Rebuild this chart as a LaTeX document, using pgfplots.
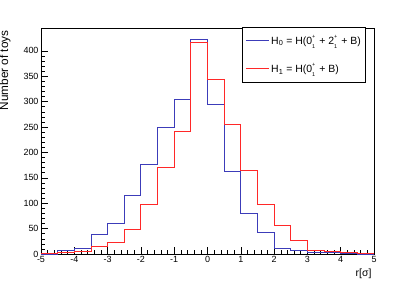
\documentclass[border=0pt]{standalone}
\usepackage{fontspec}
\setmainfont{Liberation Sans}
\usepackage{pgfplots}
\pgfplotsset{compat=1.18}
\definecolor{hblue}{RGB}{60,60,185}
\definecolor{hred}{RGB}{255,40,40}
\newcommand\supsub[2]{\makebox[0pt][l]{\raisebox{1.05ex}{\fontsize{5.5}{6}\selectfont #1}}\raisebox{-0.75ex}{\fontsize{5.5}{6}\selectfont #2}\hspace{1.2bp}}
\begin{document}
\begin{tikzpicture}[x=1bp,y=1bp]
\useasboundingbox (0,0) rectangle (415,282);
\begin{axis}[
  at={(41bp,28bp)}, anchor=south west,
  scale only axis, width=333bp, height=226bp,
  xmin=-5, xmax=5, ymin=0, ymax=445,
  xtick={-5,-4,...,5}, ytick={0,50,...,400},
  minor x tick num=4, minor y tick num=4,
  tick align=inside, xtick pos=bottom, ytick pos=left,
  major tick length=7bp, minor tick length=3.5bp,
  tick style={black, line width=0.5bp},
  axis line style={black, line width=0.6bp},
  /pgf/number format/assume math mode=true,
  ticklabel style={font=\fontsize{9}{10}\selectfont},
  xticklabel style={yshift=1bp},
  yticklabel style={xshift=1bp},
  clip=false,
  legend style={at={(rel axis cs:0.604,1.005)}, anchor=north west, draw=black, fill=white,
    font=\fontsize{10.5}{12}\selectfont, inner xsep=3bp, inner ysep=6bp,
    row sep=14bp, line width=0.6bp},
  legend cell align=left,
  legend image code/.code={\draw[#1] (0bp,0bp) -- (23bp,0bp);},
]
\addplot[const plot mark left, hblue, line width=0.8bp] coordinates {
(-5,0) (-4.5,7) (-4,12) (-3.5,38) (-3,60) (-2.5,116) (-2,177) (-1.5,249) (-1,304) (-0.5,423)
(0,294) (0.5,163) (1,80) (1.5,43) (2,12) (2.5,8) (3,4) (3.5,3) (4,1) (4.5,0) (5,0)};
\addlegendentry{H\textsubscript{0} = H(0\supsub{+}{1} + 2\supsub{+}{1} + B)}
\addplot[const plot mark left, hred, line width=0.8bp] coordinates {
(-5,1) (-4.5,3) (-4,5) (-3.5,14) (-3,23) (-2.5,49) (-2,97) (-1.5,171) (-1,242) (-0.5,417)
(0,343) (0.5,255) (1,165) (1.5,97) (2,56) (2.5,26) (3,7) (3.5,5) (4,4) (4.5,2) (5,2)};
\addlegendentry{H\textsubscript{1} = H(0\supsub{+}{1} + B)}
\end{axis}
\node[anchor=north east, font=\fontsize{10.5}{12}\selectfont] at (375bp,17bp) {r[σ]};
\node[rotate=90, anchor=south east, font=\fontsize{11.8}{13}\selectfont] at (14bp,255bp) {Number of toys};
\end{tikzpicture}
\end{document}
